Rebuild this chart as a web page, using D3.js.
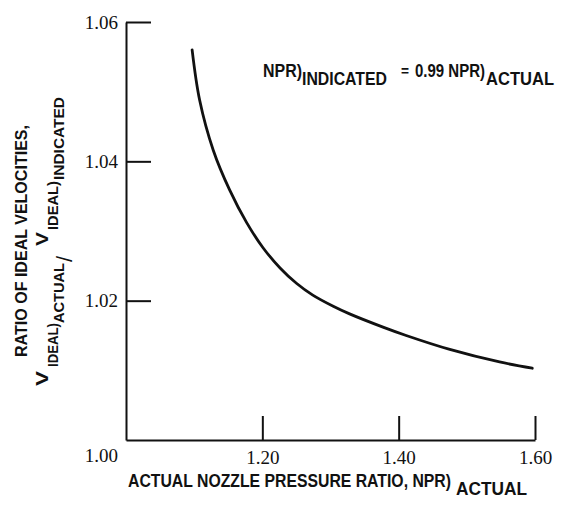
<!DOCTYPE html>
<html>
<head>
<meta charset="utf-8">
<script src="https://cdn.jsdelivr.net/npm/d3@7"></script>
<style>
  body { margin: 0; background: #fff; }
  .lbl { font-family: "Liberation Sans", Arial, sans-serif; font-weight: bold; fill: #111; }
  .tick text, .corner { font-family: "Liberation Serif", serif; font-size: 19px; fill: #111; }
</style>
</head>
<body>
<div id="chart"></div>
<script>
// values
const nprActual = [1.097, 1.108, 1.128, 1.152, 1.177, 1.201, 1.226, 1.250, 1.274, 1.304, 1.328, 1.377, 1.411, 1.475, 1.548, 1.596];
const velocityRatio = [1.0560, 1.0488, 1.0416, 1.0359, 1.0312, 1.0276, 1.0247, 1.0225, 1.0208, 1.0192, 1.0181, 1.0162, 1.0150, 1.0130, 1.0112, 1.0103];
const xTicks = [1.2, 1.4, 1.6];
const yTicks = [1.02, 1.04, 1.06];

const svgWidth = 565, svgHeight = 505;

const svg = d3.select('#chart')
    .append('svg')
    .attr('width', svgWidth)
    .attr('height', svgHeight);

const x = d3.scaleLinear().domain([1.0, 1.6]).range([126, 535]);
const y = d3.scaleLinear().domain([1.0, 1.06]).range([440, 22]);

const fmt = d3.format('.2f');

// axes, ticks pointing inward
svg.append('g')
    .attr('transform', `translate(0, ${y(1.0)})`)
    .call(d3.axisBottom(x).tickValues(xTicks).tickFormat(fmt)
        .tickSizeInner(-24).tickSizeOuter(0).tickPadding(11));

svg.append('g')
    .attr('transform', `translate(${x(1.0)}, 0)`)
    .call(d3.axisLeft(y).tickValues(yTicks).tickFormat(fmt)
        .tickSizeInner(-25).tickSizeOuter(0).tickPadding(8));

svg.selectAll('.domain, .tick line')
    .attr('stroke', '#111')
    .attr('stroke-width', 2);

// shared corner label
svg.append('text')
    .attr('class', 'corner')
    .attr('x', x(1.0) - 8)
    .attr('y', y(1.0) + 16)
    .attr('dy', '0.32em')
    .attr('text-anchor', 'end')
    .text(fmt(1.0));

// curve
const points = nprActual.map((v, i) => [v, velocityRatio[i]]);
const line = d3.line()
    .x(d => x(d[0]))
    .y(d => y(d[1]))
    .curve(d3.curveCatmullRom.alpha(0.5));

svg.append('path')
    .datum(points)
    .attr('fill', 'none')
    .attr('stroke', '#111')
    .attr('stroke-width', 2.8)
    .attr('stroke-linecap', 'round')
    .attr('d', line);

// condensed lettering: squeeze each piece to the width it has in the figure
function label(str, px, py, width, size, rotated) {
    const t = svg.append('text')
        .attr('class', 'lbl')
        .style('font-size', size + 'px')
        .text(str);
    if (rotated) {
        t.attr('transform', 'rotate(-90)').attr('x', -py).attr('y', px);
    } else {
        t.attr('x', px).attr('y', py);
    }
    if (width) t.attr('textLength', width).attr('lengthAdjust', 'spacingAndGlyphs');
    return t;
}

// x title
label('ACTUAL NOZZLE PRESSURE RATIO, NPR)', 128, 487, 323, 18.5);
label('ACTUAL', 456, 495, 71, 18.5);

// y title (rotated: px = baseline x, py = start y)
label('RATIO OF IDEAL VELOCITIES,', 27, 357, 232, 17, true);
label('V', 48, 386, 15, 17, true);
label('IDEAL)', 58, 367, 44, 15.5, true);
label('ACTUAL', 64, 323, 60, 15.5, true);
label('/', 72, 262, 0, 22, true).style('font-weight', 'normal');
label('V', 48, 246, 14, 17, true);
label('IDEAL)', 58, 230, 49, 15.5, true);
label('INDICATED', 64, 180, 83, 15.5, true);

// annotation
label('NPR)', 263, 77, 39, 17.5);
label('INDICATED', 302, 85, 85, 17.5);
label('=', 401, 76, 8, 14);
label('0.99 NPR)', 415, 77, 70, 17.5);
label('ACTUAL', 486, 85, 68, 17.5);
</script>
</body>
</html>
